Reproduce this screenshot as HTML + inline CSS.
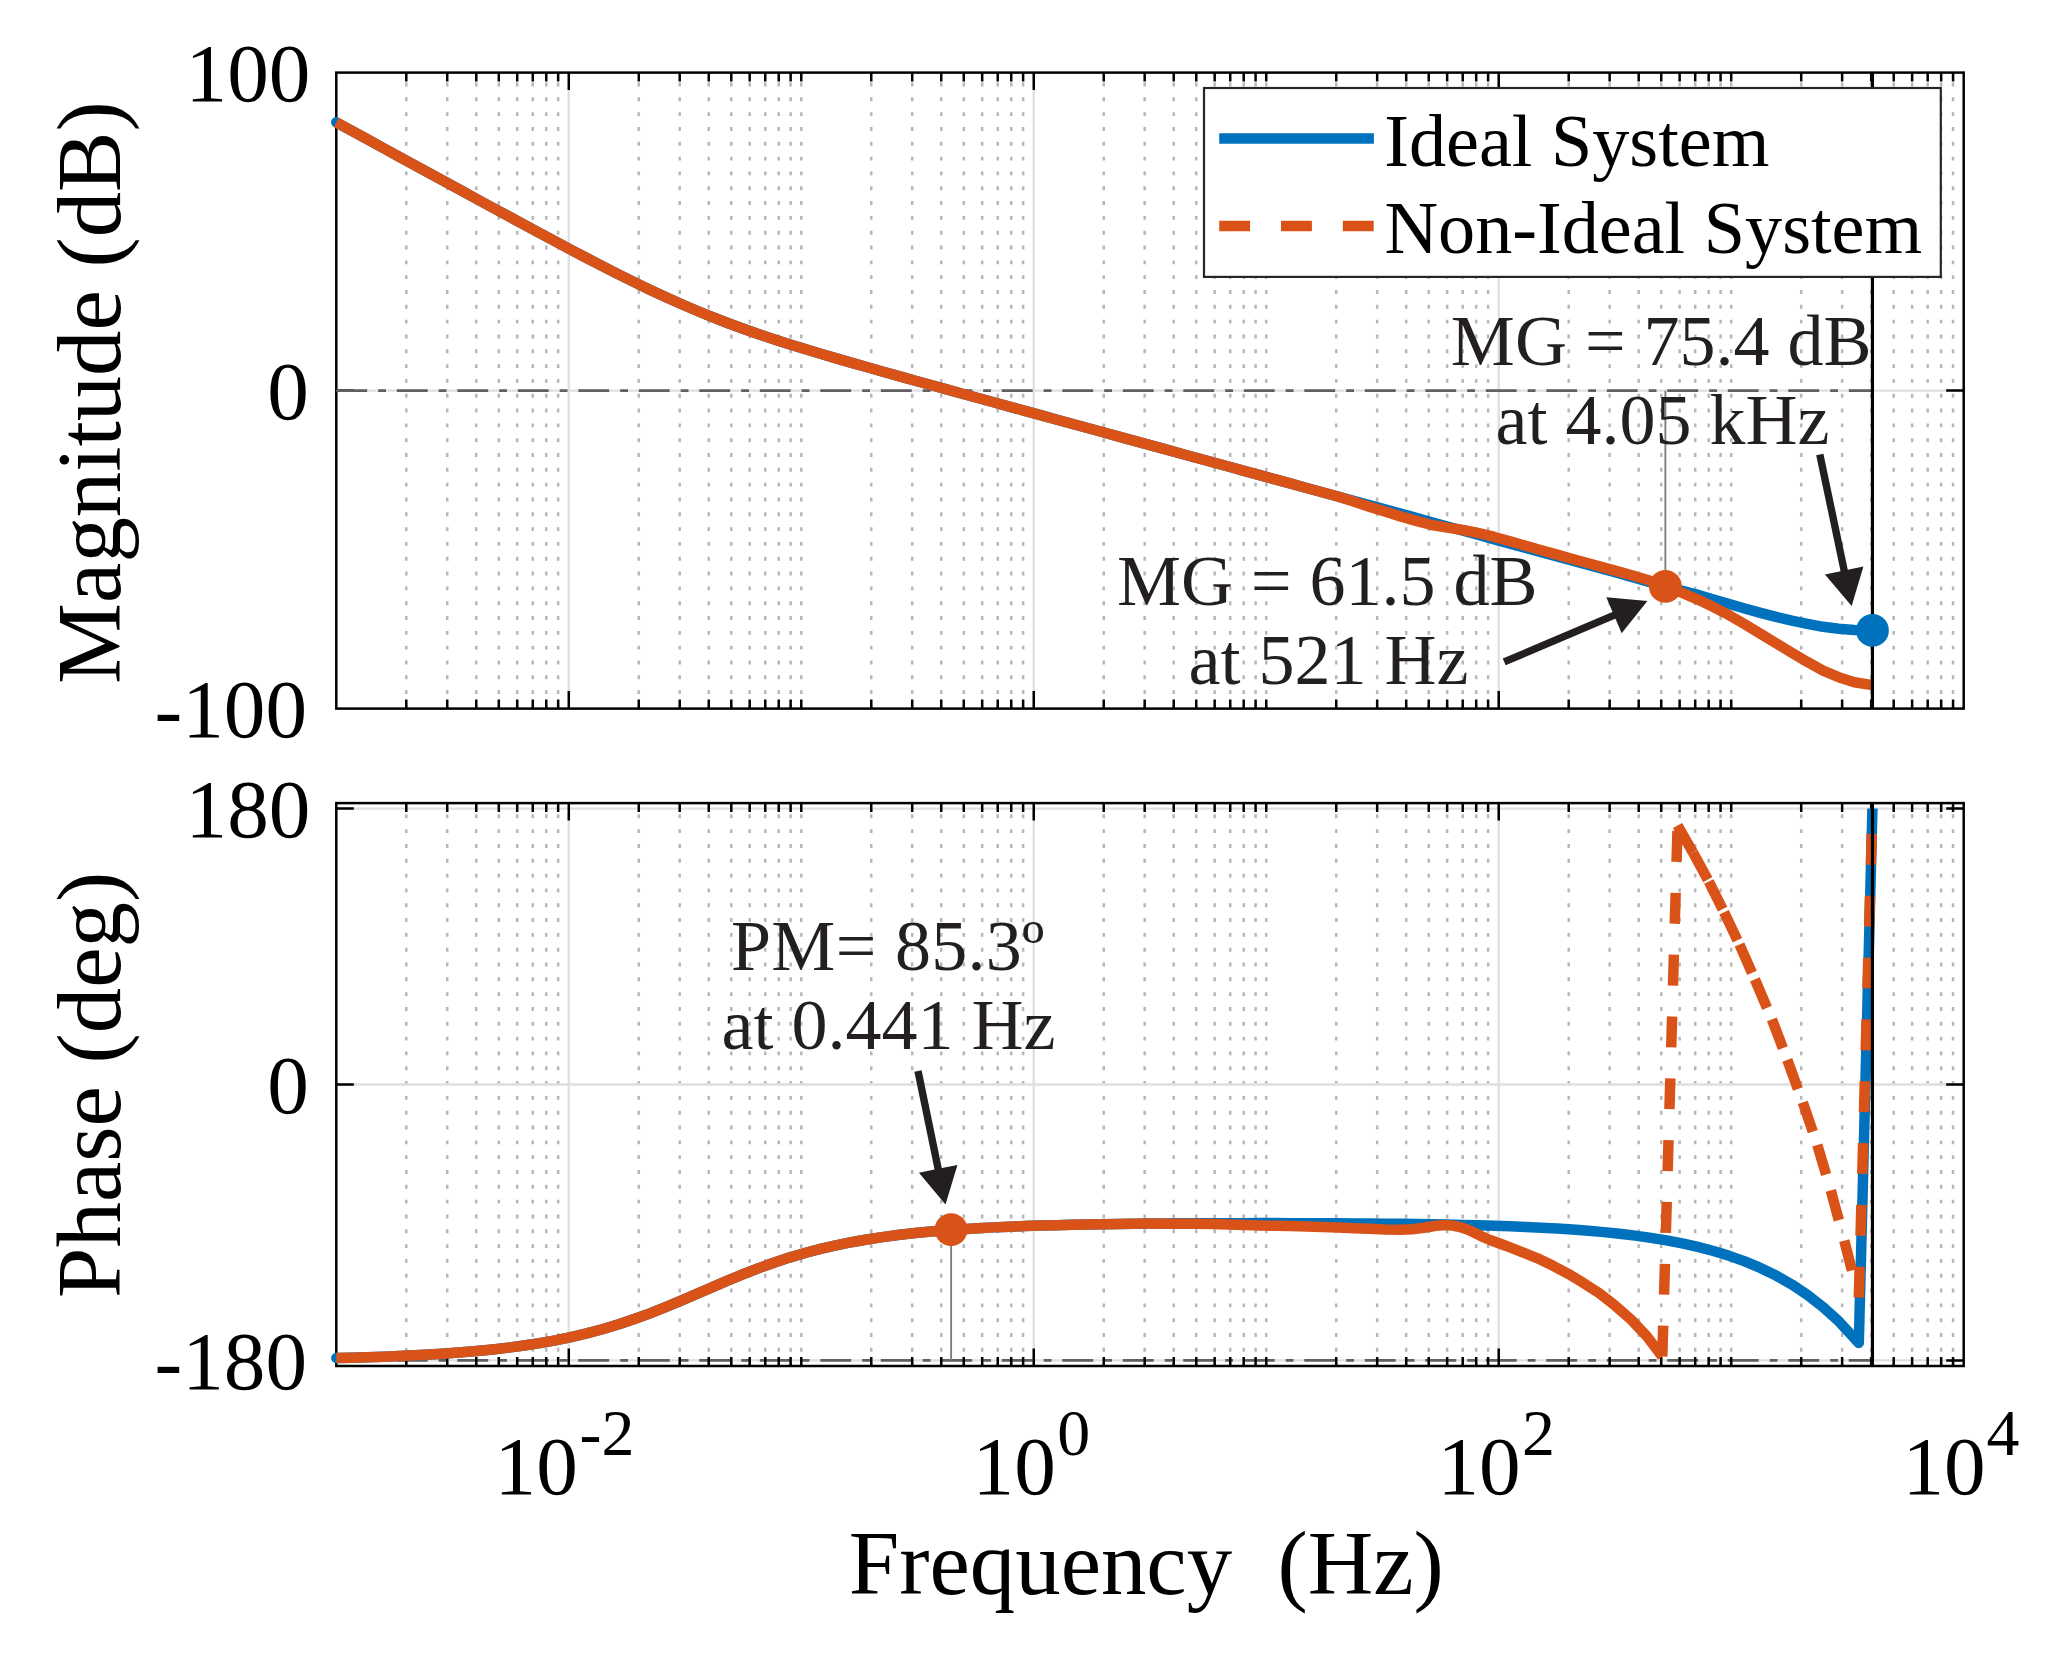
<!DOCTYPE html>
<html lang="en"><head><meta charset="utf-8"><title>Bode diagram</title>
<style>html,body{margin:0;padding:0;background:#fff}svg{display:block}text{font-family:"Liberation Serif",serif;fill:#000}.tk{font-size:83.2px}.lb{font-size:90.8px}.lg{font-size:74.2px}.an{font-size:72px;fill:#231F20}.ex{font-size:65.9px}</style></head><body>
<svg width="2068" height="1656" viewBox="0 0 2068 1656">
<rect width="2068" height="1656" fill="#fff"/>
<defs>
<clipPath id="c1"><rect x="330.3" y="72.6" width="1633.4" height="636"/></clipPath>
<clipPath id="c2"><rect x="330.3" y="808.6" width="1633.4" height="557.4"/></clipPath>
</defs>
<path d="M406.29 82.55V708.6M447.22 82.55V708.6M476.27 82.55V708.6M498.8 82.55V708.6M517.21 82.55V708.6M532.77 82.55V708.6M546.26 82.55V708.6M558.15 82.55V708.6M638.77 82.55V708.6M679.71 82.55V708.6M708.76 82.55V708.6M731.29 82.55V708.6M749.69 82.55V708.6M765.26 82.55V708.6M778.74 82.55V708.6M790.63 82.55V708.6M801.27 82.55V708.6M871.26 82.55V708.6M912.2 82.55V708.6M941.24 82.55V708.6M963.77 82.55V708.6M982.18 82.55V708.6M997.74 82.55V708.6M1011.23 82.55V708.6M1023.12 82.55V708.6M1103.74 82.55V708.6M1144.68 82.55V708.6M1173.73 82.55V708.6M1196.26 82.55V708.6M1214.67 82.55V708.6M1230.23 82.55V708.6M1243.71 82.55V708.6M1255.6 82.55V708.6M1266.24 82.55V708.6M1336.23 82.55V708.6M1377.17 82.55V708.6M1406.21 82.55V708.6M1428.74 82.55V708.6M1447.15 82.55V708.6M1462.72 82.55V708.6M1476.2 82.55V708.6M1488.09 82.55V708.6M1568.71 82.55V708.6M1609.65 82.55V708.6M1638.7 82.55V708.6M1661.23 82.55V708.6M1679.64 82.55V708.6M1695.2 82.55V708.6M1708.68 82.55V708.6M1720.58 82.55V708.6M1731.21 82.55V708.6M1801.2 82.55V708.6M1842.14 82.55V708.6M1871.18 82.55V708.6M1893.71 82.55V708.6M1912.12 82.55V708.6M1927.69 82.55V708.6M1941.17 82.55V708.6M1953.06 82.55V708.6" stroke="#b7b7b7" stroke-width="2.5" stroke-dasharray="3.9 10.92" fill="none"/>
<path d="M568.79 72.6V708.6M1033.76 72.6V708.6M1498.73 72.6V708.6M336.3 390.6H1963.7" stroke="#e0e0e0" stroke-width="2.4" fill="none"/>
<path d="M406.29 72.6v9M406.29 708.6v-9M447.22 72.6v9M447.22 708.6v-9M476.27 72.6v9M476.27 708.6v-9M498.8 72.6v9M498.8 708.6v-9M517.21 72.6v9M517.21 708.6v-9M532.77 72.6v9M532.77 708.6v-9M546.26 72.6v9M546.26 708.6v-9M558.15 72.6v9M558.15 708.6v-9M568.79 72.6v17.5M568.79 708.6v-17.5M638.77 72.6v9M638.77 708.6v-9M679.71 72.6v9M679.71 708.6v-9M708.76 72.6v9M708.76 708.6v-9M731.29 72.6v9M731.29 708.6v-9M749.69 72.6v9M749.69 708.6v-9M765.26 72.6v9M765.26 708.6v-9M778.74 72.6v9M778.74 708.6v-9M790.63 72.6v9M790.63 708.6v-9M801.27 72.6v9M801.27 708.6v-9M871.26 72.6v9M871.26 708.6v-9M912.2 72.6v9M912.2 708.6v-9M941.24 72.6v9M941.24 708.6v-9M963.77 72.6v9M963.77 708.6v-9M982.18 72.6v9M982.18 708.6v-9M997.74 72.6v9M997.74 708.6v-9M1011.23 72.6v9M1011.23 708.6v-9M1023.12 72.6v9M1023.12 708.6v-9M1033.76 72.6v17.5M1033.76 708.6v-17.5M1103.74 72.6v9M1103.74 708.6v-9M1144.68 72.6v9M1144.68 708.6v-9M1173.73 72.6v9M1173.73 708.6v-9M1196.26 72.6v9M1196.26 708.6v-9M1214.67 72.6v9M1214.67 708.6v-9M1230.23 72.6v9M1230.23 708.6v-9M1243.71 72.6v9M1243.71 708.6v-9M1255.6 72.6v9M1255.6 708.6v-9M1266.24 72.6v9M1266.24 708.6v-9M1336.23 72.6v9M1336.23 708.6v-9M1377.17 72.6v9M1377.17 708.6v-9M1406.21 72.6v9M1406.21 708.6v-9M1428.74 72.6v9M1428.74 708.6v-9M1447.15 72.6v9M1447.15 708.6v-9M1462.72 72.6v9M1462.72 708.6v-9M1476.2 72.6v9M1476.2 708.6v-9M1488.09 72.6v9M1488.09 708.6v-9M1498.73 72.6v17.5M1498.73 708.6v-17.5M1568.71 72.6v9M1568.71 708.6v-9M1609.65 72.6v9M1609.65 708.6v-9M1638.7 72.6v9M1638.7 708.6v-9M1661.23 72.6v9M1661.23 708.6v-9M1679.64 72.6v9M1679.64 708.6v-9M1695.2 72.6v9M1695.2 708.6v-9M1708.68 72.6v9M1708.68 708.6v-9M1720.58 72.6v9M1720.58 708.6v-9M1731.21 72.6v9M1731.21 708.6v-9M1801.2 72.6v9M1801.2 708.6v-9M1842.14 72.6v9M1842.14 708.6v-9M1871.18 72.6v9M1871.18 708.6v-9M1893.71 72.6v9M1893.71 708.6v-9M1912.12 72.6v9M1912.12 708.6v-9M1927.69 72.6v9M1927.69 708.6v-9M1941.17 72.6v9M1941.17 708.6v-9M1953.06 72.6v9M1953.06 708.6v-9M336.3 390.6h17.5M1963.7 390.6h-17.5" stroke="#000" stroke-width="2.5" fill="none"/>
<rect x="336.3" y="72.6" width="1627.4" height="636" fill="none" stroke="#000" stroke-width="2.5"/>
<path d="M336.3 390.6H1872.44" stroke="#606060" stroke-width="2.7" stroke-dasharray="30.9 11 7.8 10.8" fill="none"/>
<path d="M1665.38 390.6V586.4" stroke="#7f7f7f" stroke-width="1.9" fill="none"/>
<g clip-path="url(#c1)" fill="none" stroke-linejoin="round">
<path d="M336.3 122.32 L351.95 130.88 L367.6 139.44 L383.25 147.99 L398.9 156.55 L414.55 165.1 L430.2 173.64 L445.85 182.18 L461.5 190.72 L477.15 199.24 L492.8 207.74 L508.45 216.23 L524.1 224.69 L539.75 233.11 L555.4 241.48 L571.05 249.78 L586.7 258.01 L602.35 266.12 L618 274.09 L633.65 281.88 L649.3 289.45 L664.95 296.78 L680.6 303.81 L696.25 310.53 L711.9 316.92 L727.55 322.98 L743.2 328.73 L758.85 334.2 L774.5 339.42 L790.15 344.43 L805.8 349.27 L821.45 353.98 L837.1 358.59 L852.75 363.11 L868.4 367.57 L884.05 371.99 L899.7 376.37 L915.35 380.72 L931 385.05 L946.65 389.38 L962.3 393.69 L977.95 397.99 L993.6 402.28 L1009.25 406.58 L1024.9 410.87 L1040.55 415.15 L1056.2 419.44 L1071.85 423.73 L1087.5 428.01 L1103.15 432.29 L1118.8 436.57 L1134.45 440.86 L1150.1 445.14 L1165.75 449.42 L1181.4 453.7 L1197.05 457.98 L1212.7 462.27 L1228.35 466.55 L1244 470.83 L1259.65 475.11 L1275.3 479.39 L1290.95 483.67 L1306.6 487.95 L1322.25 492.24 L1337.9 496.52 L1353.55 500.8 L1369.2 505.08 L1384.85 509.36 L1400.5 513.64 L1416.15 517.92 L1431.8 522.2 L1447.45 526.48 L1463.1 530.76 L1478.75 535.04 L1494.4 539.32 L1510.05 543.6 L1525.7 547.88 L1541.35 552.16 L1557 556.43 L1572.65 560.71 L1588.3 564.98 L1603.95 569.24 L1619.6 573.5 L1635.25 578 L1650.9 582.38 L1666.55 586.66 L1682.2 590.74 L1697.85 594.9 L1713.5 599.42 L1729.15 604.01 L1744.8 608.5 L1760.45 612.85 L1776.1 616.85 L1791.75 620.57 L1807.4 623.81 L1823.05 626.79 L1838.7 628.78 L1854.35 629.91 L1872.44 630.4" stroke="#0072BD" stroke-width="10.5" stroke-linecap="round"/>
<path d="M336.3 122.32 L351.95 130.88 L367.6 139.44 L383.25 147.99 L398.9 156.55 L414.55 165.1 L430.2 173.64 L445.85 182.18 L461.5 190.72 L477.15 199.24 L492.8 207.74 L508.45 216.23 L524.1 224.69 L539.75 233.11 L555.4 241.48 L571.05 249.78 L586.7 258.01 L602.35 266.12 L618 274.09 L633.65 281.88 L649.3 289.45 L664.95 296.78 L680.6 303.81 L696.25 310.53 L711.9 316.92 L727.55 322.98 L743.2 328.73 L758.85 334.2 L774.5 339.42 L790.15 344.43 L805.8 349.27 L821.45 353.98 L837.1 358.59 L852.75 363.11 L868.4 367.57 L884.05 371.99 L899.7 376.37 L915.35 380.72 L931 385.05 L946.65 389.38 L962.3 393.69 L977.95 397.99 L993.6 402.28 L1009.25 406.58 L1024.9 410.87 L1040.55 415.15 L1056.2 419.44 L1071.85 423.73 L1087.5 428.01 L1103.15 432.29 L1118.8 436.57 L1134.45 440.86 L1150.1 445.14 L1165.75 449.42 L1181.4 453.7 L1197.05 457.98 L1212.7 462.27 L1228.35 466.55 L1244 470.83 L1259.65 475.11 L1275.3 479.39 L1290.95 483.67 L1306.6 487.95 L1322.25 492.24 L1337.9 496.52 L1353.55 501.58 L1369.2 506.63 L1384.85 511.56 L1400.5 516.37 L1416.15 520.85 L1431.8 524.96 L1447.45 527.67 L1463.1 530.01 L1478.75 533.08 L1494.4 536.94 L1510.05 541.25 L1525.7 545.83 L1541.35 550.27 L1557 554.62 L1572.65 558.96 L1588.3 563.27 L1603.95 567.59 L1619.6 571.87 L1635.25 576.28 L1650.9 580.97 L1666.55 586.52 L1682.2 592.9 L1697.85 599.56 L1713.5 607.04 L1729.15 615.19 L1744.8 624.19 L1760.45 633.83 L1776.1 643.3 L1791.75 652.73 L1807.4 661.93 L1823.05 670.61 L1838.7 677.17 L1854.35 682.21 L1872.44 685.1" stroke="#D95319" stroke-width="10.5"/>
</g>
<path d="M1872.44 72.6V708.6" stroke="#000" stroke-width="3.2" fill="none"/>
<circle cx="1665.38" cy="586.4" r="16.4" fill="#D95319"/>
<circle cx="1872.44" cy="630.4" r="16.4" fill="#0072BD"/>
<rect x="1204" y="88" width="736.8" height="188.9" fill="#fff" stroke="#262626" stroke-width="2.2"/>
<path d="M1219.2 138.4H1373.9" stroke="#0072BD" stroke-width="10.5" fill="none"/>
<path d="M1219.2 226.1H1373.9" stroke="#D95319" stroke-width="10.5" stroke-dasharray="30.9 30.9" fill="none"/>
<text class="lg" x="1384.2" y="165.6">Ideal System</text>
<text class="lg" x="1384.5" y="252.8">Non-Ideal System</text>
<text class="an" x="1661.2" y="364.5" text-anchor="middle">MG = 75.4 dB</text>
<text class="an" x="1662.4" y="444.1" text-anchor="middle">at 4.05 kHz</text>
<text class="an" x="1327.3" y="604.5" text-anchor="middle">MG = 61.5 dB</text>
<text class="an" x="1328.4" y="684.1" text-anchor="middle">at 521 Hz</text>
<path d="M1819.8 454.4L1844.39 571.45" stroke="#231F20" stroke-width="7.4" fill="none"/>
<path d="M1851.65 606 L1824.96 574.52 L1844.19 570.48 L1863.42 566.44Z" fill="#231F20"/>
<path d="M1504.2 661.9L1614.91 614.9" stroke="#231F20" stroke-width="7.4" fill="none"/>
<path d="M1647.4 601.1 L1621.67 633.37 L1613.99 615.29 L1606.31 597.2Z" fill="#231F20"/>
<path d="M406.29 814.35V1366M447.22 814.35V1366M476.27 814.35V1366M498.8 814.35V1366M517.21 814.35V1366M532.77 814.35V1366M546.26 814.35V1366M558.15 814.35V1366M638.77 814.35V1366M679.71 814.35V1366M708.76 814.35V1366M731.29 814.35V1366M749.69 814.35V1366M765.26 814.35V1366M778.74 814.35V1366M790.63 814.35V1366M801.27 814.35V1366M871.26 814.35V1366M912.2 814.35V1366M941.24 814.35V1366M963.77 814.35V1366M982.18 814.35V1366M997.74 814.35V1366M1011.23 814.35V1366M1023.12 814.35V1366M1103.74 814.35V1366M1144.68 814.35V1366M1173.73 814.35V1366M1196.26 814.35V1366M1214.67 814.35V1366M1230.23 814.35V1366M1243.71 814.35V1366M1255.6 814.35V1366M1266.24 814.35V1366M1336.23 814.35V1366M1377.17 814.35V1366M1406.21 814.35V1366M1428.74 814.35V1366M1447.15 814.35V1366M1462.72 814.35V1366M1476.2 814.35V1366M1488.09 814.35V1366M1568.71 814.35V1366M1609.65 814.35V1366M1638.7 814.35V1366M1661.23 814.35V1366M1679.64 814.35V1366M1695.2 814.35V1366M1708.68 814.35V1366M1720.58 814.35V1366M1731.21 814.35V1366M1801.2 814.35V1366M1842.14 814.35V1366M1871.18 814.35V1366M1893.71 814.35V1366M1912.12 814.35V1366M1927.69 814.35V1366M1941.17 814.35V1366M1953.06 814.35V1366" stroke="#b7b7b7" stroke-width="2.5" stroke-dasharray="3.9 10.92" fill="none"/>
<path d="M568.79 803.1V1366M1033.76 803.1V1366M1498.73 803.1V1366M336.3 808.6H1963.7M336.3 1084.5H1963.7M336.3 1360.4H1963.7" stroke="#e0e0e0" stroke-width="2.4" fill="none"/>
<path d="M336.3 1360.4H1872.44" stroke="#606060" stroke-width="2.7" stroke-dasharray="30.9 11 7.8 10.8" fill="none"/>
<path d="M406.29 803.1v9M406.29 1366v-9M447.22 803.1v9M447.22 1366v-9M476.27 803.1v9M476.27 1366v-9M498.8 803.1v9M498.8 1366v-9M517.21 803.1v9M517.21 1366v-9M532.77 803.1v9M532.77 1366v-9M546.26 803.1v9M546.26 1366v-9M558.15 803.1v9M558.15 1366v-9M568.79 803.1v17.5M568.79 1366v-17.5M638.77 803.1v9M638.77 1366v-9M679.71 803.1v9M679.71 1366v-9M708.76 803.1v9M708.76 1366v-9M731.29 803.1v9M731.29 1366v-9M749.69 803.1v9M749.69 1366v-9M765.26 803.1v9M765.26 1366v-9M778.74 803.1v9M778.74 1366v-9M790.63 803.1v9M790.63 1366v-9M801.27 803.1v9M801.27 1366v-9M871.26 803.1v9M871.26 1366v-9M912.2 803.1v9M912.2 1366v-9M941.24 803.1v9M941.24 1366v-9M963.77 803.1v9M963.77 1366v-9M982.18 803.1v9M982.18 1366v-9M997.74 803.1v9M997.74 1366v-9M1011.23 803.1v9M1011.23 1366v-9M1023.12 803.1v9M1023.12 1366v-9M1033.76 803.1v17.5M1033.76 1366v-17.5M1103.74 803.1v9M1103.74 1366v-9M1144.68 803.1v9M1144.68 1366v-9M1173.73 803.1v9M1173.73 1366v-9M1196.26 803.1v9M1196.26 1366v-9M1214.67 803.1v9M1214.67 1366v-9M1230.23 803.1v9M1230.23 1366v-9M1243.71 803.1v9M1243.71 1366v-9M1255.6 803.1v9M1255.6 1366v-9M1266.24 803.1v9M1266.24 1366v-9M1336.23 803.1v9M1336.23 1366v-9M1377.17 803.1v9M1377.17 1366v-9M1406.21 803.1v9M1406.21 1366v-9M1428.74 803.1v9M1428.74 1366v-9M1447.15 803.1v9M1447.15 1366v-9M1462.72 803.1v9M1462.72 1366v-9M1476.2 803.1v9M1476.2 1366v-9M1488.09 803.1v9M1488.09 1366v-9M1498.73 803.1v17.5M1498.73 1366v-17.5M1568.71 803.1v9M1568.71 1366v-9M1609.65 803.1v9M1609.65 1366v-9M1638.7 803.1v9M1638.7 1366v-9M1661.23 803.1v9M1661.23 1366v-9M1679.64 803.1v9M1679.64 1366v-9M1695.2 803.1v9M1695.2 1366v-9M1708.68 803.1v9M1708.68 1366v-9M1720.58 803.1v9M1720.58 1366v-9M1731.21 803.1v9M1731.21 1366v-9M1801.2 803.1v9M1801.2 1366v-9M1842.14 803.1v9M1842.14 1366v-9M1871.18 803.1v9M1871.18 1366v-9M1893.71 803.1v9M1893.71 1366v-9M1912.12 803.1v9M1912.12 1366v-9M1927.69 803.1v9M1927.69 1366v-9M1941.17 803.1v9M1941.17 1366v-9M1953.06 803.1v9M1953.06 1366v-9M336.3 808.6h17.5M1963.7 808.6h-17.5M336.3 1084.5h17.5M1963.7 1084.5h-17.5M336.3 1360.4h17.5M1963.7 1360.4h-17.5" stroke="#000" stroke-width="2.5" fill="none"/>
<rect x="336.3" y="803.1" width="1627.4" height="562.9" fill="none" stroke="#000" stroke-width="2.5"/>
<path d="M951.09 1229.6V1360.4" stroke="#7f7f7f" stroke-width="1.9" fill="none"/>
<g clip-path="url(#c2)" fill="none" stroke-linejoin="round">
<path d="M336.3 1358.06 L351.95 1357.67 L367.6 1357.22 L383.25 1356.68 L398.9 1356.06 L414.55 1355.34 L430.2 1354.49 L445.85 1353.5 L461.5 1352.35 L477.15 1351.01 L492.8 1349.45 L508.45 1347.64 L524.1 1345.54 L539.75 1343.11 L555.4 1340.3 L571.05 1337.08 L586.7 1333.39 L602.35 1329.21 L618 1324.51 L633.65 1319.29 L649.3 1313.56 L664.95 1307.4 L680.6 1300.88 L696.25 1294.15 L711.9 1287.35 L727.55 1280.65 L743.2 1274.19 L758.85 1268.11 L774.5 1262.48 L790.15 1257.36 L805.8 1252.76 L821.45 1248.68 L837.1 1245.1 L852.75 1241.96 L868.4 1239.23 L884.05 1236.87 L899.7 1234.83 L915.35 1233.08 L931 1231.57 L946.65 1230.27 L962.3 1229.16 L977.95 1228.2 L993.6 1227.38 L1009.25 1226.68 L1024.9 1226.08 L1040.55 1225.57 L1056.2 1225.14 L1071.85 1224.76 L1087.5 1224.45 L1103.15 1224.18 L1118.8 1223.95 L1134.45 1223.76 L1150.1 1223.6 L1165.75 1223.47 L1181.4 1223.36 L1197.05 1223.28 L1212.7 1223.21 L1228.35 1223.16 L1244 1223.13 L1259.65 1223.12 L1275.3 1223.12 L1290.95 1223.14 L1306.6 1223.18 L1322.25 1223.23 L1337.9 1223.31 L1353.55 1223.4 L1369.2 1223.51 L1384.85 1223.65 L1400.5 1223.82 L1416.15 1224.03 L1431.8 1224.27 L1447.45 1224.55 L1463.1 1224.89 L1478.75 1225.28 L1494.4 1225.75 L1510.05 1226.29 L1525.7 1226.92 L1541.35 1227.67 L1557 1228.53 L1572.65 1229.55 L1588.3 1230.73 L1603.95 1232.12 L1619.6 1233.74 L1635.25 1235.63 L1650.9 1237.83 L1666.55 1240.41 L1682.2 1243.42 L1697.85 1246.93 L1713.5 1251.03 L1729.15 1255.83 L1744.8 1261.42 L1760.45 1267.95 L1776.1 1275.58 L1791.75 1284.49 L1807.4 1294.89 L1823.05 1307.03 L1838.7 1321.22 L1858.8 1342.97 L1872.44 808.6" stroke="#0072BD" stroke-width="10.5" stroke-linecap="round"/>
<path d="M336.3 1358.06 L351.95 1357.67 L367.6 1357.22 L383.25 1356.68 L398.9 1356.06 L414.55 1355.34 L430.2 1354.49 L445.85 1353.5 L461.5 1352.35 L477.15 1351.01 L492.8 1349.45 L508.45 1347.64 L524.1 1345.54 L539.75 1343.11 L555.4 1340.3 L571.05 1337.08 L586.7 1333.39 L602.35 1329.21 L618 1324.51 L633.65 1319.29 L649.3 1313.56 L664.95 1307.4 L680.6 1300.88 L696.25 1294.15 L711.9 1287.35 L727.55 1280.65 L743.2 1274.19 L758.85 1268.11 L774.5 1262.48 L790.15 1257.36 L805.8 1252.76 L821.45 1248.68 L837.1 1245.1 L852.75 1241.96 L868.4 1239.23 L884.05 1236.87 L899.7 1234.83 L915.35 1233.08 L931 1231.57 L946.65 1230.27 L962.3 1229.16 L977.95 1228.2 L993.6 1227.38 L1009.25 1226.68 L1024.9 1226.08 L1040.55 1225.57 L1056.2 1225.14 L1071.85 1224.76 L1087.5 1224.45 L1103.15 1224.18 L1118.8 1223.95 L1134.45 1223.76 L1150.1 1223.6 L1165.75 1223.64 L1181.4 1223.74 L1197.05 1223.87 L1212.7 1224.12 L1228.35 1224.57 L1244 1225.04 L1259.65 1225.42 L1275.3 1225.74 L1290.95 1226.07 L1306.6 1226.49 L1322.25 1227.01 L1337.9 1227.57 L1353.55 1228.14 L1369.2 1228.84 L1384.85 1229.46 L1400 1229.67 L1406 1229.48 L1412 1229.17 L1418 1228.55 L1424 1227.7 L1430 1226.7 L1436 1225.81 L1442 1225.27 L1448 1225.16 L1454 1225.86 L1460 1227.04 L1466 1228.9 L1472 1231.54 L1478 1234.51 L1484 1237.43 L1490 1239.99 L1505.65 1245.71 L1521.3 1251.84 L1536.95 1258.04 L1552.6 1265.54 L1568.25 1273.81 L1583.9 1283.3 L1599.55 1293.43 L1615.2 1305.68 L1630.85 1319.36 L1646.5 1335.9 L1662.3 1356.5" stroke="#D95319" stroke-width="10.5"/>
<path d="M1662.3 1356.5L1663.19 1325.61M1664.08 1294.68L1664.97 1263.79M1665.86 1232.85L1666.75 1201.96M1667.64 1171.03L1668.53 1140.14M1669.43 1109.2L1670.32 1078.32M1671.21 1047.38L1672.1 1016.49M1672.99 985.55L1673.88 954.67M1674.77 923.73L1675.66 892.84M1676.55 861.91L1677.44 831.02M1677.6 825.5L1692.91 852.34M1693 852.5L1707.78 879.63M1708.8 881.5L1722.55 909.17M1724.1 912.3L1737.43 940.18M1739.5 944.5L1751.97 972.77M1754.9 979.4L1767.01 1007.83M1771.9 1019.3L1782.86 1048.19M1787.3 1059.9L1797.89 1088.93M1802.8 1102.4L1812.78 1131.64M1817.3 1144.9L1826.11 1174.52M1830.8 1190.3L1838.81 1220.14M1844.3 1240.6L1851.92 1270.55M1858.8 1297.6L1859.66 1266.71M1860.52 1235.77L1861.39 1204.89M1862.25 1173.95L1863.11 1143.06M1863.97 1112.12L1864.83 1081.23M1865.7 1050.3L1866.56 1019.41M1867.42 988.47L1868.28 957.58M1869.15 926.64L1870.01 895.76M1870.87 864.82L1871.73 833.93" stroke="#D95319" stroke-width="10.5" stroke-linejoin="miter"/>
</g>
<path d="M1872.44 803.1V1366" stroke="#000" stroke-width="3.2" fill="none"/>
<circle cx="951.09" cy="1229.6" r="16.4" fill="#D95319"/>
<text class="an" x="731.0" y="970" textLength="313.4" lengthAdjust="spacing">PM= 85.3º</text>
<text class="an" x="888.5" y="1049.2" text-anchor="middle">at 0.441 Hz</text>
<path d="M918 1071L938.37 1169.83" stroke="#231F20" stroke-width="7.4" fill="none"/>
<path d="M945.5 1204.4 L918.93 1172.81 L938.17 1168.85 L957.42 1164.88Z" fill="#231F20"/>
<text class="tk" x="310.4" y="101.1" text-anchor="end">100</text>
<text class="tk" x="308.8" y="419.1" text-anchor="end">0</text>
<text class="tk" x="307.0" y="737.1" text-anchor="end">-100</text>
<text class="tk" x="310.4" y="837.1" text-anchor="end">180</text>
<text class="tk" x="308.8" y="1113" text-anchor="end">0</text>
<text class="tk" x="307.0" y="1388.9" text-anchor="end">-180</text>
<text class="tk" x="494.6" y="1493.8">10</text>
<text class="ex" x="579.6" y="1454.8">-2</text>
<text class="tk" x="972.6" y="1493.8">10</text>
<text class="ex" x="1057.2" y="1454.8">0</text>
<text class="tk" x="1437.5" y="1493.8">10</text>
<text class="ex" x="1522.1" y="1454.8">2</text>
<text class="tk" x="1902.4" y="1493.8">10</text>
<text class="ex" x="1986.6" y="1454.8">4</text>
<text class="lb" x="1146.3" y="1593.8" text-anchor="middle" xml:space="preserve">Frequency  (Hz)</text>
<text class="lb" transform="translate(120.4 392.4) rotate(-90)" text-anchor="middle">Magnitude (dB)</text>
<text class="lb" transform="translate(120.4 1084.9) rotate(-90)" text-anchor="middle">Phase (deg)</text>
</svg></body></html>
